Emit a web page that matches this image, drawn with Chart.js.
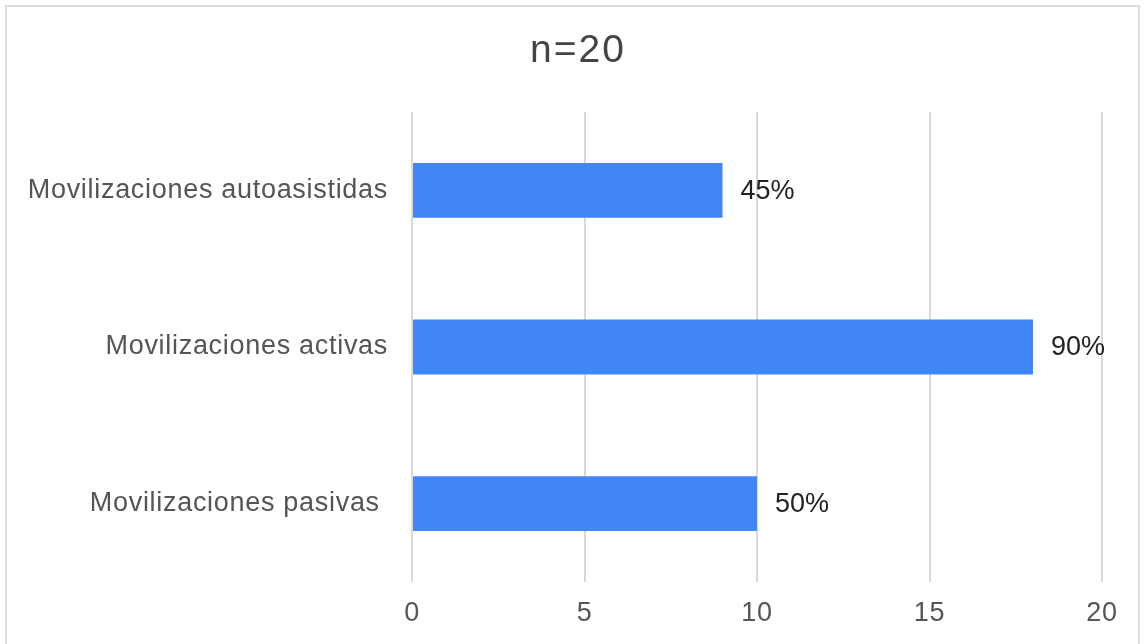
<!DOCTYPE html>
<html>
<head>
<meta charset="utf-8">
<script src="https://cdn.jsdelivr.net/npm/chart.js@4"></script>
<style>
    body { margin: 0; background: #fff; }
    #frame {
        position: absolute; left: 5px; top: 5px; width: 1131px; height: 700px;
        border: 2px solid #dcdcdc; border-bottom: none;
    }
    #wrap { position: absolute; left: 0; top: 0; width: 1145px; height: 644px; }
</style>
</head>
<body>
<div id="frame"></div>
<div id="wrap"><canvas id="chart-mov"></canvas></div>
<script>
const total = 20;
const title = 'n=20';
const categories = ['Movilizaciones autoasistidas', 'Movilizaciones activas', 'Movilizaciones pasivas '];
const counts = [9, 18, 10];
const xTicks = [0, 5, 10, 15, 20];

const FONT = 'Liberation Sans, Arial, sans-serif';

// slightly spaced-out lettering for the axis text
const spacing = {
    id: 'spacing',
    beforeDraw(chart) { chart.ctx.letterSpacing = '0.7px'; },
    afterDraw(chart) { chart.ctx.letterSpacing = '0px'; }
};

// title drawn by hand so it sits over the whole frame, not the plot area
const titleText = {
    id: 'titleText',
    afterDraw(chart) {
        const ctx = chart.ctx;
        ctx.save();
        ctx.letterSpacing = '2px';
        ctx.font = '39px ' + FONT;
        ctx.fillStyle = '#444';
        ctx.textAlign = 'center';
        ctx.textBaseline = 'middle';
        ctx.fillText(title, 578, 51);
        ctx.restore();
    }
};

// percent label next to each bar, from the same count the bar uses
const percentLabels = {
    id: 'percentLabels',
    afterDatasetsDraw(chart) {
        const ctx = chart.ctx;
        const meta = chart.getDatasetMeta(0);
        ctx.save();
        ctx.letterSpacing = '0px';
        ctx.font = '27px ' + FONT;
        ctx.fillStyle = '#222';
        ctx.textAlign = 'left';
        ctx.textBaseline = 'middle';
        meta.data.forEach((bar, i) => {
            const pct = Math.round(counts[i] / total * 100);
            ctx.fillText(pct + '%', bar.x + 18, bar.y + 1);
        });
        ctx.restore();
    }
};

const ctx = document.getElementById('chart-mov').getContext('2d');
new Chart(ctx, {
    type: 'bar',
    data: {
        labels: categories,
        datasets: [{
            data: counts,
            backgroundColor: '#4285f4',
            barPercentage: 0.35,
            categoryPercentage: 1
        }]
    },
    options: {
        indexAxis: 'y',
        responsive: true,
        maintainAspectRatio: false,
        animation: false,
        layout: { padding: { top: 112, left: 0, right: 43, bottom: 0 } },
        plugins: {
            legend: { display: false },
            tooltip: { enabled: false },
            title: { display: false }
        },
        scales: {
            x: {
                min: 0,
                max: 20,
                afterBuildTicks: scale => { scale.ticks = xTicks.map(v => ({ value: v })); },
                afterFit: scale => { scale.height = 62; },
                border: { display: false },
                grid: { color: '#d9d9d9', lineWidth: 2, drawTicks: false },
                ticks: { color: '#555', padding: 15, font: { family: FONT, size: 27 } }
            },
            y: {
                afterFit: scale => { scale.width = 412; },
                border: { display: false },
                grid: { display: false, drawTicks: false },
                ticks: { color: '#555', padding: 24, font: { family: FONT, size: 27 } }
            }
        }
    },
    plugins: [spacing, titleText, percentLabels]
});
</script>
</body>
</html>
